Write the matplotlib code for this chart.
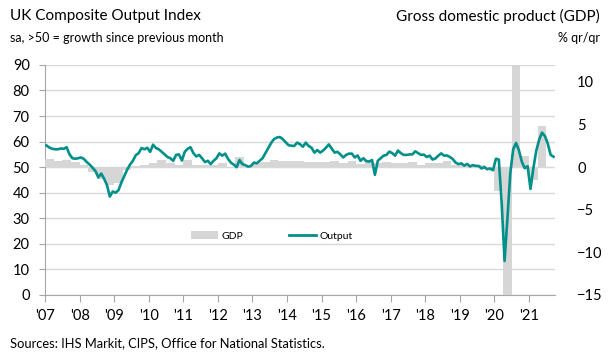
import numpy as np
import matplotlib
matplotlib.use('Agg')
import matplotlib.pyplot as plt
from matplotlib.patches import Patch
from matplotlib.lines import Line2D

plt.rcParams['font.family'] = ['Lato', 'DejaVu Sans']

TEAL = '#00908a'
BAR_GREY = '#d6d6d6'
AXIS_GREY = '#a6a6a6'

YEARS = list(range(2007, 2022))
YEAR_LABELS = ["'%02d" % (y % 100) for y in YEARS]

# monthly composite output index, Jan 2007 .. Sep 2021
pmi_2007 = [58.5, 57.7, 57.2, 57.0, 57.0, 57.3, 57.2, 57.8, 55.0, 53.5, 53.3, 53.5]
pmi_2008 = [53.8, 53.2, 52.0, 51.0, 49.8, 48.5, 46.0, 47.5, 45.5, 43.0, 38.5, 40.5]
pmi_2009 = [40.0, 41.0, 44.0, 46.5, 49.0, 51.0, 52.5, 54.7, 55.5, 57.5, 57.0, 57.6]
pmi_2010 = [56.0, 58.8, 57.5, 57.0, 56.0, 55.0, 54.0, 53.5, 52.5, 54.8, 55.0, 52.6]
pmi_2011 = [56.0, 57.2, 57.8, 55.5, 54.2, 54.8, 53.5, 52.0, 52.5, 51.2, 52.5, 53.5]
pmi_2012 = [55.4, 54.5, 55.3, 53.3, 51.8, 51.0, 50.0, 52.8, 51.2, 50.8, 50.2, 50.5]
pmi_2013 = [51.8, 51.5, 52.5, 53.5, 55.5, 57.5, 59.5, 61.0, 61.6, 61.8, 61.0, 59.8]
pmi_2014 = [58.6, 58.4, 58.3, 59.6, 59.0, 58.0, 59.6, 58.3, 57.6, 55.7, 56.7, 55.7]
pmi_2015 = [56.5, 57.6, 58.9, 57.3, 55.7, 56.0, 55.0, 53.8, 54.8, 55.3, 55.3, 53.8]
pmi_2016 = [54.6, 52.5, 53.5, 52.4, 52.2, 52.8, 47.0, 52.5, 53.5, 54.5, 54.8, 56.1]
pmi_2017 = [55.5, 54.5, 56.5, 55.5, 54.8, 54.8, 55.0, 55.0, 56.2, 55.5, 54.8, 54.9]
pmi_2018 = [54.0, 54.5, 53.0, 53.4, 54.5, 55.4, 54.5, 54.6, 54.0, 53.2, 51.8, 51.2]
pmi_2019 = [51.5, 50.6, 51.3, 50.3, 50.8, 50.5, 50.5, 49.5, 50.0, 49.2, 49.5, 48.8]
pmi_2020 = [53.3, 53.0, 36.0, 13.3, 30.0, 47.7, 57.0, 59.5, 56.5, 52.1, 49.6, 50.4]
pmi_2021 = [41.5, 49.6, 56.4, 60.7, 63.5, 62.2, 59.2, 54.8, 54.1]

pmi = (pmi_2007 + pmi_2008 + pmi_2009 + pmi_2010 + pmi_2011 + pmi_2012 +
       pmi_2013 + pmi_2014 + pmi_2015 + pmi_2016 + pmi_2017 + pmi_2018 +
       pmi_2019 + pmi_2020 + pmi_2021)

# quarterly GDP % q/q, 2007 Q1 .. 2021 Q2
gdp = [0.95, 0.75, 0.83, 0.63,
       0.3, -0.55, -1.4, -2.1,
       -1.8, -0.35, 0.1, 0.3,
       0.5, 0.9, 0.45, 0.25,
       0.8, 0.2, 0.3, 0.3,
       0.5, -0.05, 1.15, 0.0,
       0.45, 0.6, 0.8, 0.7,
       0.75, 0.75, 0.65, 0.65,
       0.65, 0.75, 0.5, 0.75,
       0.35, 0.55, 0.5, 0.63,
       0.44, 0.44, 0.55, 0.3,
       0.44, 0.44, 0.7, 0.3,
       0.25, 0.1, 0.25, 0.0,
       -2.8, -19.5, 16.9, 1.3,
       -1.5, 4.8]

months = 2007 + (np.arange(len(pmi)) + 0.5) / 12
quarters = 2007 + (np.arange(len(gdp)) + 0.5) / 4

fig = plt.figure(figsize=(6.1, 3.64), dpi=100)
ax = fig.add_axes([0.0738, 0.1896, 0.836, 0.632])
ax2 = ax.twinx()

# left axis: index, grid lives here
ax.set_xlim(2007, 2021.75)
ax.set_ylim(0, 90)
ax.set_yticks(range(0, 91, 10))
ax.yaxis.grid(True, color='#d9d9d9', lw=1)
ax.set_axisbelow(True)
ax.set_xticks(YEARS)
ax.set_xticklabels(YEAR_LABELS)
ax.tick_params(axis='x', direction='out', length=5, color=AXIS_GREY,
               labelsize=10.5, pad=5)
ax.tick_params(axis='y', direction='out', length=4, color=AXIS_GREY,
               labelsize=10.5, pad=7)
for s in ['top', 'right']:
    ax.spines[s].set_visible(False)
for s in ['left', 'bottom']:
    ax.spines[s].set_color(AXIS_GREY)

# right axis: GDP bars
ax2.set_ylim(-15, 12)
ax2.set_yticks([-15, -10, -5, 0, 5, 10])
ax2.tick_params(axis='y', length=0, labelsize=10.5, pad=16)
for s in ax2.spines.values():
    s.set_visible(False)
ax2.bar(quarters, gdp, width=0.25, color=BAR_GREY, zorder=1)

# line on top of bars, in the left-axis scale
ax2.plot(months, pmi, color=TEAL, lw=1.9, zorder=3, transform=ax.transData,
         solid_joinstyle='round')

handles = [Patch(facecolor=BAR_GREY, label='GDP'),
           Line2D([], [], color=TEAL, lw=2, label='Output')]
ax2.legend(handles=handles, loc='center', bbox_to_anchor=(0.445, 0.257),
           ncol=2, frameon=False, fontsize=7.5, handlelength=2.6,
           columnspacing=4.4, handletextpad=0.3)

fig.text(0.016, 0.955, 'UK Composite Output Index', fontsize=11, va='center')
fig.text(0.016, 0.896, 'sa, >50 = growth since previous month', fontsize=9,
         va='center')
fig.text(0.984, 0.955, 'Gross domestic product (GDP)', fontsize=11,
         va='center', ha='right')
fig.text(0.984, 0.896, '% qr/qr', fontsize=9, va='center', ha='right')
fig.text(0.016, 0.058, 'Sources: IHS Markit, CIPS, Office for National Statistics.',
         fontsize=9.3, va='center')

fig.savefig('out.png', dpi=100)
